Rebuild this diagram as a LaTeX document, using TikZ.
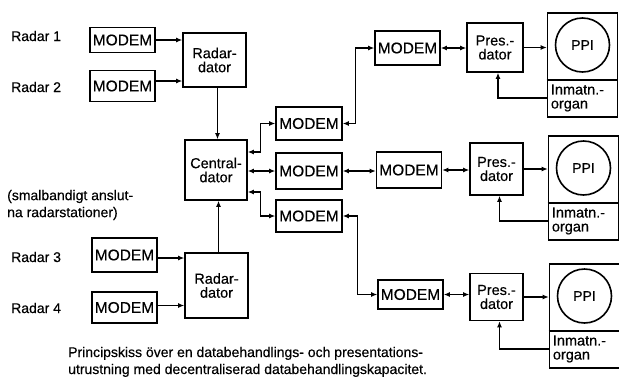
\documentclass[tikz,border=0pt]{standalone}
\usepackage{fontspec}
\setmainfont{Liberation Sans}[FakeBold=0.4]
\usetikzlibrary{arrows.meta}
\begin{document}
\begin{tikzpicture}[x=1pt,y=-1pt,
  box/.style={draw, line width=1.6pt, inner sep=0pt, align=center, font=\fontsize{14.5}{14}\selectfont},
  mbox/.style={box, minimum width=65, font=\fontsize{15.5}{15}\selectfont},
  lbl/.style={anchor=west, inner sep=0pt, align=left, font=\fontsize{14}{17}\selectfont},
  circ/.style={draw, circle, line width=1.6pt, minimum size=54, inner sep=0pt, font=\fontsize{14}{14}\selectfont},
  inm/.style={anchor=west, inner sep=0pt, align=left, font=\fontsize{14.5}{14}\selectfont},
  tip/.tip={Latex[length=6pt,width=5pt]},
  con/.style={line width=1.1pt, -tip},
  bi/.style={line width=1.1pt, tip-tip},
  sep/.style={line width=1.4pt},
]
\useasboundingbox (0,0) rectangle (619,378);

% left labels
\node[lbl] (L1) at (11,36) {Radar 1};
\node[lbl] (L2) at (11,87) {Radar 2};
\node[lbl] (L5) at (7,205) {(smalbandigt anslut-\\na radarstationer)};
\node[lbl] (L3) at (11,257) {Radar 3};
\node[lbl] (L4) at (11,308) {Radar 4};

% left modems and radar computers
\node[mbox, minimum height=25] (M1) at (122.5,40) {MODEM};
\node[mbox, minimum height=31] (M2) at (122.5,86) {MODEM};
\node[box, minimum width=63, minimum height=54] (RD1) at (214.5,60) {Radar-\\dator};
\node[mbox, minimum height=34] (M3) at (124.5,255) {MODEM};
\node[mbox, minimum height=31] (M4) at (124.5,307.5) {MODEM};
\node[box, minimum width=63, minimum height=65] (RD2) at (216.5,285.5) {Radar-\\dator};

% central computer
\node[box, minimum width=62, minimum height=60] (CD) at (216,170) {Central-\\dator};

% middle modems
\node[mbox, minimum width=66, minimum height=33] (MA) at (309,123.5) {MODEM};
\node[mbox, minimum width=66, minimum height=36] (MB) at (309,171) {MODEM};
\node[mbox, minimum width=66, minimum height=32] (MC) at (309,216) {MODEM};

% right modems
\node[mbox, minimum height=34] (MR1) at (407.5,48) {MODEM};
\node[mbox, minimum height=36] (MR2) at (409,170) {MODEM};
\node[mbox, minimum height=29] (MR3) at (410.5,294.5) {MODEM};

% presentation computers
\node[box, minimum width=56, minimum height=49] (P1) at (495,47.5) {Pres.-\\dator};
\node[box, minimum width=53, minimum height=52] (P2) at (496.5,169) {Pres.-\\dator};
\node[box, minimum width=53, minimum height=47] (P3) at (496.5,297) {Pres.-\\dator};

% PPI consoles
\foreach \i/\x/\y in {1/582.5/12, 2/583.5/135, 3/584.5/263} {
  \node[box, minimum width=70, minimum height=104, anchor=north] (PPI\i) at (\x,\y) {};
  \node[circ] (C\i) at ([yshift=-33pt]PPI\i.north) {PPI};
  \coordinate (D\i) at ([yshift=-68pt]PPI\i.north west);
  \draw[sep] (D\i) -- (D\i -| PPI\i.east);
  \node[inm] (IN\i) at ([xshift=4pt,yshift=-86pt]PPI\i.north west) {Inmatn.-\\organ};
  \coordinate (F\i) at ([yshift=-86pt]PPI\i.north west);
}

% radar connections
\draw[con] (M1.east) -- (M1.east -| RD1.west);
\draw[con] ([yshift=5pt]M2.east) -- ([yshift=5pt]M2.east -| RD1.west);
\draw[con] ([yshift=-3pt]M3.east) -- ([yshift=-3pt]M3.east -| RD2.west);
\draw[con] ([yshift=2pt]M4.east) -- ([yshift=2pt]M4.east -| RD2.west);
\draw[con] ([xshift=3pt]RD1.south) -- ([xshift=3pt]RD1.south |- CD.north);
\draw[con] ([xshift=2pt]RD2.north) -- ([xshift=2pt]RD2.north |- CD.south);

% central to middle modems
\draw[bi] ([yshift=18pt]CD.east) -- ++(13,0) |- (MA.west);
\draw[bi] (CD.east |- MB.west) -- (MB.west);
\draw[bi] ([yshift=-22pt]CD.east) -- ++(13,0) |- (MC.west);

% middle modems to right modems
\draw[bi] (MA.east) -- ++(13,0) |- (MR1.west);
\draw[bi] (MB.east) -- (MB.east -| MR2.west);
\draw[bi] (MC.east) -- ++(15,0) |- (MR3.west);

% modems to presentation computers
\draw[bi] (MR1.east) -- (MR1.east -| P1.west);
\draw[bi] (MR2.east) -- (MR2.east -| P2.west);
\draw[bi] (MR3.east) -- (MR3.east -| P3.west);

% presentation computers to PPI
\draw[con] (P1.east) -- (P1.east -| PPI1.west);
\draw[con] (P2.east) -- (P2.east -| PPI2.west);
\draw[con] (P3.east) -- (P3.east -| PPI3.west);

% input feedback
\draw[con] (F1) -| ([xshift=3pt]P1.south);
\draw[con] (F2) -| ([xshift=3pt]P2.south);
\draw[con] (F3) -| ([xshift=3pt]P3.south);

% caption
\node[lbl, anchor=base west, font=\fontsize{14}{17}\selectfont] (CAP) at (68,374)
  {Principskiss över en databehandlings- och presentations-\\utrustning med decentraliserad databehandlingskapacitet.};
\end{tikzpicture}
\end{document}
